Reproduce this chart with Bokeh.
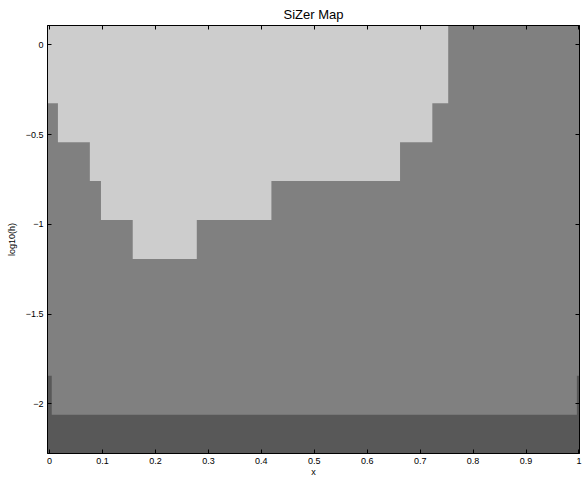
from bokeh.plotting import figure
from bokeh.models import Range1d, LinearAxis, FixedTicker, CustomJSTickFormatter
from bokeh.embed import file_html
from bokeh.resources import INLINE

# SiZer map: columns of x locations, rows of log10 bandwidth.
# Each column lists how many rows (from the top) are "significant increase"
# (light) and how many rows (from the bottom) are "too sparse" (dark);
# the rest are "not significant" (mid gray).
col_edges = [-0.004, 0.004, 0.0157, 0.076, 0.097, 0.157, 0.278, 0.419,
             0.662, 0.723, 0.753, 0.996, 1.001]
light_rows = [2, 2, 3, 4, 5, 6, 5, 4, 3, 2, 0, 0]
dark_rows = [2, 1, 1, 1, 1, 1, 1, 1, 1, 1, 1, 2]
row_edges = [0.107, -0.110, -0.326, -0.543, -0.759, -0.976, -1.193,
             -1.410, -1.626, -1.843, -2.060, -2.276]

x_ticks = [0, 0.1, 0.2, 0.3, 0.4, 0.5, 0.6, 0.7, 0.8, 0.9, 1]
x_tick_labels = ["0", "0.1", "0.2", "0.3", "0.4", "0.5", "0.6", "0.7", "0.8", "0.9", "1"]
y_ticks = [0, -0.5, -1, -1.5, -2]
y_tick_labels = ["0", "\u22120.5", "\u22121", "\u22121.5", "\u22122"]

LIGHT = "#cdcdcd"
MID = "#808080"
DARK = "#585858"

n_rows = len(row_edges) - 1
n_cols = len(light_rows)

# light region: step polygon hanging from the top edge
lit = [i for i in range(n_cols) if light_rows[i] > 0]
first, last = lit[0], lit[-1]
light_x = [col_edges[first], col_edges[last + 1]]
light_y = [row_edges[0], row_edges[0]]
for i in range(last, first - 1, -1):
    light_x += [col_edges[i + 1], col_edges[i]]
    light_y += [row_edges[light_rows[i]], row_edges[light_rows[i]]]

# dark region: step polygon standing on the bottom edge
dark_x, dark_y = [], []
for i in range(n_cols):
    level = row_edges[n_rows - dark_rows[i]]
    dark_x += [col_edges[i], col_edges[i + 1]]
    dark_y += [level, level]
dark_x += [col_edges[-1], col_edges[0]]
dark_y += [row_edges[-1], row_edges[-1]]

FONT = "Liberation Sans"

p = figure(width=584, height=479,
           x_range=Range1d(col_edges[0], col_edges[-1]),
           y_range=Range1d(row_edges[-1], row_edges[0]),
           output_backend="svg", toolbar_location=None,
           min_border_left=47, min_border_right=5,
           min_border_top=25, min_border_bottom=25,
           title="SiZer Map")

# whole map is "not significant" underneath, overlaid by the other classes
p.quad(left=[col_edges[0]], right=[col_edges[-1]], top=[row_edges[0]],
       bottom=[row_edges[-1]], fill_color=MID, line_color=None)
p.patch(light_x, light_y, fill_color=LIGHT, line_color=None)
p.patch(dark_x, dark_y, fill_color=DARK, line_color=None)

p.title.align = "center"
p.title.text_font = FONT
p.title.text_font_size = "13px"
p.title.text_font_style = "normal"
p.title.text_color = "#000000"
p.title.standoff = 8

p.xgrid.visible = False
p.ygrid.visible = False
p.outline_line_color = "#000000"
p.outline_line_width = 1
p.background_fill_color = "white"
p.border_fill_color = "white"

xa = p.xaxis[0]
xa.ticker = FixedTicker(ticks=x_ticks)
xa.major_label_overrides = {t: s for t, s in zip(x_ticks, x_tick_labels)}
xa.axis_label = "x"
ya = p.yaxis[0]
ya.ticker = FixedTicker(ticks=y_ticks)
ya.major_label_overrides = {t: s for t, s in zip(y_ticks, y_tick_labels)}
ya.axis_label = "log10(h)"

for ax in (xa, ya):
    ax.major_tick_in = 4
    ax.major_tick_out = 0
    ax.minor_tick_in = 0
    ax.minor_tick_out = 0
    ax.axis_line_color = "#000000"
    ax.axis_line_width = 1
    ax.major_tick_line_color = "#000000"
    ax.major_label_text_font = FONT
    ax.major_label_text_font_size = "9px"
    ax.major_label_text_color = "#000000"
    ax.axis_label_text_font = FONT
    ax.axis_label_text_font_size = "9px"
    ax.axis_label_text_font_style = "normal"
    ax.axis_label_text_color = "#000000"
xa.major_label_standoff = 4
xa.axis_label_standoff = 0
ya.major_label_standoff = 4
ya.axis_label_standoff = 6

# mirrored tick marks on the top and right edges, without labels
blank = CustomJSTickFormatter(code="return ''")
top_ax = LinearAxis(ticker=FixedTicker(ticks=x_ticks), formatter=blank,
                    major_label_standoff=0, major_tick_in=4, major_tick_out=0,
                    minor_tick_in=0, minor_tick_out=0, axis_line_color="#000000",
                    major_tick_line_color="#000000")
right_ax = LinearAxis(ticker=FixedTicker(ticks=y_ticks), formatter=blank,
                      major_label_standoff=0, major_tick_in=4, major_tick_out=0,
                      minor_tick_in=0, minor_tick_out=0, axis_line_color="#000000",
                      major_tick_line_color="#000000")
p.add_layout(top_ax, "above")
p.add_layout(right_ax, "right")

open("out.html", "w").write(file_html(p, INLINE))
